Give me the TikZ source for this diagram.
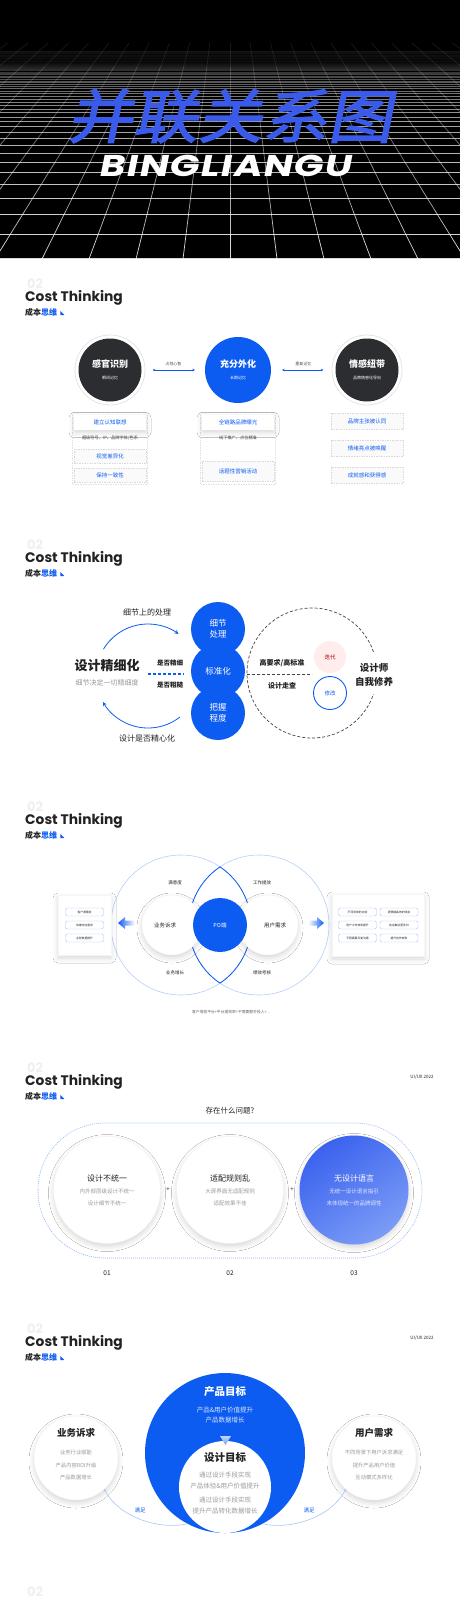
\documentclass[tikz,border=0pt]{standalone}
\usepackage{fontspec}
\setmainfont{Noto Sans CJK SC}
\newfontfamily\popfont{Poppins}
\newfontfamily\titlefont{Noto Sans CJK SC}[FakeBold=2.5,FakeSlant=0.2,FakeStretch=1.12]
\newfontfamily\widefont{Poppins}[FakeSlant=0.2,FakeStretch=1.3,LetterSpace=4]
\usepackage{tikz}
\usetikzlibrary{arrows.meta}
\usetikzlibrary{shadows.blur}
\usetikzlibrary{positioning}

\definecolor{mainblue}{HTML}{0D5CF2}
\definecolor{titleblue}{HTML}{3A5BEA}
\definecolor{inkdark}{HTML}{2B2D31}
\definecolor{inktext}{HTML}{222222}
\definecolor{softgray}{HTML}{9A9A9A}
\definecolor{gradA}{HTML}{3B62EE}
\definecolor{gradB}{HTML}{7B9CF6}

\newcommand{\pxs}[2]{\fontsize{#1}{#2}\selectfont}

\tikzset{
  costtitle/.style={anchor=west,inner sep=0pt,text=inktext,font=\popfont\bfseries\pxs{13.8}{13.8}},
  costsub/.style={anchor=west,inner sep=0pt,text=inktext,font=\bfseries\pxs{8}{8}},
  ghostnum/.style={anchor=west,inner sep=0pt,text=black!6,font=\popfont\bfseries\pxs{13}{13}},
  softshadow/.style={blur shadow={shadow xshift=0pt,shadow yshift=-3pt,shadow blur radius=5pt,shadow opacity=16}},
  darkball/.style={circle,fill=inkdark,text=white,minimum size=63pt,inner sep=0pt,align=center},
  blueball/.style={circle,fill=mainblue,text=white,minimum size=66pt,inner sep=0pt,align=center},
  whiteball/.style={circle,fill=white,draw=black!5,text=inktext,inner sep=0pt,align=center,softshadow},
  gradball/.style={circle,top color=gradA,bottom color=gradB,shading angle=35,text=white,inner sep=0pt,align=center,softshadow},
  ringline/.style={draw=black!10,fill=white,line width=0.8pt},
  linkarrow/.style={{Stealth[length=2.5pt,width=2.5pt]}-{Stealth[length=2.5pt,width=2.5pt]},mainblue,line width=0.5pt},
  tinylabel/.style={font=\pxs{4}{4},text=inktext!80,inner sep=1pt},
  dashframe/.style={draw=black!12,dash pattern=on 1.5pt off 1pt,line width=0.4pt},
  solidbox/.style={rectangle,fill=white,minimum width=72pt,minimum height=15pt,inner sep=0pt,text=mainblue,font=\pxs{5.5}{5.5},softshadow},
  dashbox/.style={rectangle,fill=black!2,draw=black!15,dash pattern=on 1.5pt off 1pt,line width=0.4pt,minimum width=72pt,minimum height=14pt,inner sep=0pt,text=mainblue,font=\pxs{5.5}{5.5}},
  plainline/.style={font=\pxs{4.2}{4.2},text=inktext!85,inner sep=0pt},
  loopline/.style={mainblue,line width=0.8pt,-{Stealth[length=4pt,width=4pt]}},
  smalltext/.style={font=\pxs{4.5}{4.5},text=inktext,inner sep=0pt},
  pill/.style={rectangle,rounded corners=1.5pt,draw=mainblue!35,fill=white,minimum width=38pt,minimum height=8pt,inner sep=0pt,font=\pxs{2.8}{2.8},text=inktext},
  card/.style={rectangle,fill=white,draw=black!4,inner sep=0pt,softshadow},
  meetline/.style={draw=mainblue!35,line width=0.6pt,{Circle[length=2.2pt]}-},
}

\begin{document}
\begin{tikzpicture}[x=1pt,y=-1pt]
\useasboundingbox (0,0) rectangle (460,1600);
\clip (0,0) rectangle (460,1600);
\fill[white] (0,0) rectangle (460,1600);

% header
\fill[black] (0,0) rectangle (460,259);
\begin{scope}
  \clip (0,42) rectangle (460,259);
  \foreach \k in {0,...,60} {
    \pgfmathsetmacro{\yy}{20+1000/(4.2+0.47*\k)}
    \pgfmathsetmacro{\op}{max(0.03,0.85-\k*0.02)}
    \draw[white,opacity=\op,line width=0.7pt] (0,\yy) -- (460,\yy);
  }
  \foreach \j in {-12,...,12} {
    \foreach \s in {0,...,8} {
      \pgfmathsetmacro{\ya}{259-\s*24}
      \pgfmathsetmacro{\yb}{259-(\s+1)*24}
      \pgfmathsetmacro{\xa}{230+47*\j*((\ya+120)/379)}
      \pgfmathsetmacro{\xb}{230+47*\j*((\yb+120)/379)}
      \pgfmathsetmacro{\op}{0.85-\s*0.095}
      \draw[white,opacity=\op,line width=0.7pt] (\xa,\ya) -- (\xb,\yb);
    }
  }
\end{scope}
\node[font=\titlefont\pxs{58}{58},text=titleblue,inner sep=0pt] (title) at (230,116) {并联关系图};
\node[font=\widefont\bfseries\pxs{30}{30},text=white,inner sep=0pt] (subtitle) at (225,166) {BINGLIANGU};

% headings
\foreach \y [count=\i] in {298,559,821,1082,1343} {
  \node[ghostnum] (gh\i) at (27,{\y-14}) {02};
  \node[costtitle] (ct\i) at (25,\y) {Cost Thinking};
  \node[costsub] (cs\i) at (25,{\y+14}) {成本{\color{mainblue}思维}};
  \fill[mainblue] ([xshift=3pt,yshift=-3pt]cs\i.east) -- ++(4,0) -- ++(-4,-4) -- cycle;
}
\node[ghostnum] (gh6) at (27,1592) {02};

% section 1
\draw[ringline] (110,370) circle[radius=35];
\node[darkball] (sense) at (110,370) {{\bfseries\pxs{9}{12}感官识别}\\{\pxs{4}{6}瞬间记忆}};
\node[blueball] (outer) at (238,370) {{\bfseries\pxs{9}{12}充分外化}\\{\pxs{4}{6}长期记忆}};
\draw[ringline] (367,370) circle[radius=35];
\node[darkball] (bond) at (367,370) {{\bfseries\pxs{9}{12}情感纽带}\\{\pxs{4}{6}品牌情感化导向}};
\draw[linkarrow,shorten <=11pt,shorten >=10pt] (sense) -- node[above=3pt,tinylabel] (lab1) {占领心智} (outer);
\draw[linkarrow,shorten <=11pt,shorten >=12pt] (outer) -- node[above=3pt,tinylabel] (lab2) {重复记忆} (bond);

\draw[dashframe] (72,412) rectangle (147,484);
\node[solidbox] (s1a) at (110,422) {建立认知联想};
\node[plainline] (s1b) at (110,438) {超级符号、IP、品牌字体/色系};
\node[dashbox] (s1c) at (110,456) {视觉差异化};
\node[dashbox] (s1d) at (110,475) {保持一致性};

\draw[dashframe] (200,412) rectangle (275,484);
\node[solidbox] (s2a) at (238,422) {全链路品牌曝光};
\node[plainline] (s2b) at (238,438) {线下推广、点位精准};
\node[dashbox,minimum height=20pt] (s2c) at (238,471) {话题性营销活动};

\node[dashbox,minimum height=16pt] (s3a) at (367,421) {品牌主张被认同};
\node[dashbox,minimum height=16pt] (s3b) at (367,448) {情绪亮点被唤醒};
\node[dashbox,minimum height=16pt] (s3c) at (367,475) {成就感和获得感};

% section 2
\node[font=\bfseries\pxs{13}{13},text=inktext] (fine) at (107,666) {设计精细化};
\node[font=\pxs{7}{7},text=softgray] (fineSub) at (107,683) {细节决定一切精细度};
\node[font=\pxs{8}{8},text=inktext] (topNote) at (147,612) {细节上的处理};
\node[font=\pxs{8}{8},text=inktext] (botNote) at (147,738) {设计是否精心化};
\coordinate (loop) at (148,676);
\draw[loopline] (loop) ++(-149:52) arc[start angle=-149,end angle=-54,radius=52];
\draw[loopline] (loop) ++(52:52) arc[start angle=52,end angle=150,radius=52];
\node[font=\bfseries\pxs{6.5}{6.5},text=inktext] (isFine) at (170,663) {是否精细};
\node[font=\bfseries\pxs{6.5}{6.5},text=inktext] (isRough) at (170,685) {是否粗糙};
\draw[mainblue,line width=1.2pt,dash pattern=on 3pt off 2pt] (148,674) -- (184,674);

\node[blueball,minimum size=54pt,font=\pxs{8.5}{11}] (detail) at (218,629) {细节\\处理};
\node[blueball,minimum size=54pt,font=\pxs{8.5}{11}] (norm) at (218,671) {标准化};
\node[blueball,minimum size=54pt,font=\pxs{8.5}{11}] (grip) at (218,713) {把握\\程度};

\coordinate (ring) at (312,673);
\draw[inktext!85,line width=0.7pt,dash pattern=on 3pt off 2pt] (ring) ++(-19:65) arc[start angle=-19,end angle=-341,radius=65];
\draw[inktext!85,line width=0.7pt,dash pattern=on 3pt off 2pt] (247,674) -- (312,674);
\node[font=\bfseries\pxs{7}{7},text=inktext] (strict) at (282,663) {高要求/高标准};
\node[font=\bfseries\pxs{7}{7},text=inktext] (check) at (282,686) {设计走查};
\node[circle,fill=red!7,minimum size=32pt,inner sep=0pt,text=red!70!black,font=\pxs{5.5}{5.5}] (iter) at (330,657) {迭代};
\node[circle,draw=mainblue,line width=0.9pt,fill=white,minimum size=33pt,inner sep=0pt,text=mainblue,font=\pxs{5.5}{5.5}] (fix) at (330,693) {修改};
\node[font=\bfseries\pxs{9.5}{14},text=inktext,align=center] (self) at (374,675) {设计师\\自我修养};

% section 3
\coordinate (lc) at (181,925);
\coordinate (rc) at (259,925);
\draw[mainblue!30,line width=0.6pt] (lc) circle[radius=70];
\draw[mainblue!30,line width=0.6pt] (rc) circle[radius=70];
\begin{scope}
  \clip (rc) circle[radius=70];
  \draw[mainblue,line width=0.8pt] (lc) circle[radius=70];
\end{scope}
\begin{scope}
  \clip (lc) circle[radius=70];
  \draw[mainblue,line width=0.8pt] (rc) circle[radius=70];
\end{scope}
\node[whiteball,minimum size=60pt,font=\pxs{5.5}{5.5}] (biz) at (172,925) {业务诉求\hspace{14pt}};
\node[whiteball,minimum size=60pt,font=\pxs{5.5}{5.5}] (user) at (268,925) {\hspace{14pt}用户需求};
\node[blueball,minimum size=54pt,font=\pxs{5.5}{5.5}] (po) at (220,925) {PO端};
\node[smalltext] (l1) at (175,883) {满意度};
\node[smalltext] (l2) at (262,883) {工作提效};
\node[smalltext] (l3) at (175,973) {业务增长};
\node[smalltext] (l4) at (262,973) {绩效考核};

\node[card,minimum width=53pt,minimum height=60pt] (leftcard) at (84.5,925) {};
\foreach \t [count=\i] in {客户满意度,快速响应需求,业务数据提升} {
  \node[pill] (lp\i) at (84.5,{899+13*\i}) {\t};
}
\node[card,minimum width=92pt,minimum height=62pt] (rightcard) at (378,925) {};
\foreach \t [count=\i] in {不同场景的功能,用户工作效率提升,不再需要反复沟通} {
  \node[pill] (ra\i) at (357.5,{899+13*\i}) {\t};
}
\foreach \t [count=\i] in {更便捷高效的体验,信息触达更及时,提升协作效率} {
  \node[pill] (rb\i) at (399,{899+13*\i}) {\t};
}
\shade[left color=mainblue,right color=mainblue!5] (118,923) -- (125,917) -- (125,920.5) -- (134,920.5) -- (134,925.5) -- (125,925.5) -- (125,929) -- cycle;
\shade[left color=mainblue!5,right color=mainblue] (324,923) -- (317,917) -- (317,920.5) -- (309,920.5) -- (309,925.5) -- (317,925.5) -- (317,929) -- cycle;
\node[font=\pxs{3.8}{3.8},text=inktext!70] (caption) at (231,1012) {客户增值平台+平台提效率+不需要额外投入+...};

% section 4
\node[smalltext] (tag4) at (422,1077) {UI/UX 2022};
\node[font=\pxs{7.5}{7.5},text=inktext] (ask) at (230,1111) {存在什么问题?};
\draw[mainblue!45,line width=0.6pt,dash pattern=on 1pt off 1pt,rounded corners=67pt] (38,1123) rectangle (422,1258);
\node[whiteball,minimum size=107pt] (q1) at (107,1190) {{\pxs{8}{13}设计不统一}\\{\pxs{5.5}{8}\color{softgray}内外部层级设计不统一}\\{\pxs{5.5}{8}\color{softgray}设计细节不统一}};
\node[whiteball,minimum size=107pt] (q2) at (230,1190) {{\pxs{8}{13}适配规则乱}\\{\pxs{5.5}{8}\color{softgray}大屏界面无适配规则}\\{\pxs{5.5}{8}\color{softgray}适配效果不佳}};
\node[gradball,minimum size=109pt] (q3) at (354,1190) {{\pxs{8}{13}无设计语言}\\{\pxs{5.5}{8}\color{white!85!gradA}无统一设计语言指引}\\{\pxs{5.5}{8}\color{white!85!gradA}未体现统一的品牌调性}};
\node[font=\pxs{6}{6},text=inktext] (plus1) at (168,1190) {+};
\node[font=\pxs{6}{6},text=inktext] (plus2) at (292,1190) {+};
\foreach \n/\x in {01/107,02/230,03/354} {
  \node[font=\pxs{6.5}{6.5},text=inktext] (num\n) at (\x,1273) {\n};
}

% section 5
\node[smalltext] (tag5) at (422,1338) {UI/UX 2022};
\node[circle,fill=mainblue,minimum size=160pt,inner sep=0pt] (prod) at (225,1453) {};
\node[circle,fill=white,minimum size=92pt,inner sep=0pt] (design) at (225,1487) {};
\node[text=white,font=\bfseries\pxs{10.5}{10.5}] (prodT) at (225,1392) {产品目标};
\node[text=white!85!mainblue,font=\pxs{6.5}{10},align=center] (prodS) at (225,1415) {产品\&用户价值提升\\产品数据增长};
\shade[top color=mainblue!25,bottom color=mainblue!60] (220,1436) -- (231,1436) -- (225.5,1445) -- cycle;
\node[text=inktext,font=\bfseries\pxs{10.5}{10.5}] (designT) at (225,1458) {设计目标};
\node[text=softgray,font=\pxs{6.5}{11},align=center] (designS) at (225,1493) {通过设计手段实现\\产品体验\&用户价值提升\\[3pt]通过设计手段实现\\提升产品转化数据增长};

\node[whiteball,minimum size=84pt] (bizNeed) at (76,1458) {};
\node[font=\bfseries\pxs{9.5}{9.5},text=inktext] (bizT) at (76,1433) {业务诉求};
\node[font=\pxs{5.3}{12.5},text=softgray,align=center] (bizS) at (76,1465) {业务行业赋能\\产品内容ROI升级\\产品数据增长};
\node[whiteball,minimum size=84pt] (userNeed) at (374,1458) {};
\node[font=\bfseries\pxs{9.5}{9.5},text=inktext] (userT) at (374,1433) {用户需求};
\node[font=\pxs{5.3}{12.5},text=softgray,align=center] (userS) at (374,1465) {不同场景下用户诉求满足\\提升产品用户价值\\互动模式多样化};

\draw[meetline] (bizNeed.-48) .. controls (120,1518) and (160,1530) .. (prod.242);
\draw[meetline] (userNeed.228) .. controls (330,1518) and (290,1530) .. (prod.-62);
\node[font=\pxs{5.5}{5.5},text=mainblue] (meet1) at (140,1510) {满足};
\node[font=\pxs{5.5}{5.5},text=mainblue] (meet2) at (309,1510) {满足};
\end{tikzpicture}
\end{document}
